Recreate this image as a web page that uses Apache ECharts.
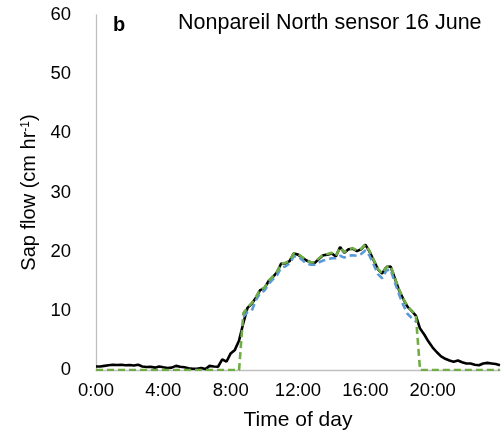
<!DOCTYPE html>
<html>
<head>
<meta charset="utf-8">
<script src="https://cdn.jsdelivr.net/npm/echarts@6/dist/echarts.min.js"></script>
<style>
  html, body { margin: 0; padding: 0; background: #fff; }
  #chart { width: 504px; height: 431px; }
</style>
</head>
<body>
<div id="chart"></div>
<script>
// Time of day at 15-minute steps, 0:00 .. 24:00
const times = [];
for (let i = 0; i <= 96; i++) {
  const h = Math.floor(i / 4), m = (i % 4) * 15;
  times.push(h + ':' + (m === 0 ? '00' : m));
}

// Measured sap flow (cm hr-1)
const measured = [
  0.6, 0.6, 0.7, 0.8, 0.9, 0.85, 0.9, 0.8,
  0.85, 0.75, 0.9, 0.6, 0.5, 0.55, 0.4, 0.6,
  0.45, 0.35, 0.4, 0.7, 0.55, 0.45, 0.3, 0.2,
  0.2, 0.35, 0.15, 0.7, 0.6, 0.55, 1.8, 1.4,
  2.8, 3.4, 5.0, 7.9, 10.5, 11.2, 12.2, 13.5,
  13.8, 15.0, 15.7, 16.5, 18.0, 18.0, 18.4, 19.7,
  19.5, 19.0, 18.5, 18.2, 18.1, 18.8, 19.4, 19.5,
  19.7, 19.2, 20.8, 19.8, 20.4, 20.5, 20.1, 20.4,
  21.2, 20.0, 18.5, 17.0, 16.3, 17.4, 17.5, 15.5,
  13.5, 12.0, 10.7, 10.0, 9.2, 7.0, 6.0, 4.8,
  3.8, 3.0, 2.3, 1.9, 1.6, 1.4, 1.6, 1.3,
  1.1, 1.1, 0.9, 0.8, 1.1, 1.2, 1.1, 1.0,
  0.8
];

// Blue dashed estimate (daytime only)
const estimateBlue = [
  null, null, null, null, null, null, null, null,
  null, null, null, null, null, null, null, null,
  null, null, null, null, null, null, null, null,
  null, null, null, null, null, null, null, null,
  null, null, null, 9.0, 9.8, 10.0, 11.8, 13.0,
  13.4, 14.5, 15.3, 16.0, 17.3, 17.5, 18.0, 19.2,
  19.2, 18.6, 18.0, 17.8, 17.8, 18.2, 18.5, 18.7,
  18.9, 18.9, 19.3, 19.0, 19.3, 19.4, 19.3, 19.6,
  20.2, 19.3, 17.8, 16.2, 15.5, 16.8, 17.0, 14.8,
  12.8, 11.0, 9.5, 8.8, 8.2, null, null, null,
  null, null, null, null, null, null, null, null,
  null, null, null, null, null, null, null, null,
  null
];

// Green dashed estimate (zero outside daylight)
const estimateGreen = [
  0, 0, 0, 0, 0, 0, 0, 0,
  0, 0, 0, 0, 0, 0, 0, 0,
  0, 0, 0, 0, 0, 0, 0, 0,
  0, 0, 0, 0, 0, 0, 0, 0,
  0, 0, 0, 9.6, 10.6, 11.3, 12.3, 13.6,
  13.9, 15.1, 15.8, 16.6, 18.0, 18.1, 18.5, 19.7,
  19.6, 19.1, 18.5, 18.2, 18.2, 18.9, 19.5, 19.6,
  19.8, 19.3, 20.7, 19.9, 20.4, 20.6, 20.2, 20.5,
  21.2, 20.1, 18.6, 17.1, 16.3, 17.4, 17.6, 15.6,
  13.6, 12.1, 10.8, 10.0, 9.3, 0, 0, 0,
  0, 0, 0, 0, 0, 0, 0, 0,
  0, 0, 0, 0, 0, 0, 0, 0,
  0
];

const yTicks = { min: 0, max: 60, step: 10 };

const font = 'Liberation Sans, Arial, sans-serif';
const chart = echarts.init(document.getElementById('chart'), null, { renderer: 'canvas' });

chart.setOption({
  animation: false,
  backgroundColor: '#ffffff',
  grid: { left: 96, right: 4, top: 15, bottom: 61, containLabel: false, outerBoundsMode: 'none' },
  xAxis: {
    type: 'category',
    data: times,
    boundaryGap: false,
    name: 'Time of day',
    nameLocation: 'middle',
    nameGap: 40,
    nameTextStyle: { fontFamily: font, fontSize: 21, color: '#000' },
    axisLine: { lineStyle: { color: '#bfbfbf', width: 1.3 } },
    axisTick: { show: false },
    splitLine: { show: false },
    axisLabel: {
      interval: function (i) { return i % 16 === 0 && i < 96; },
      fontFamily: font, fontSize: 18.5, color: '#000', margin: 11
    }
  },
  yAxis: {
    type: 'value',
    min: yTicks.min, max: yTicks.max, interval: yTicks.step,
    name: '{t|Sap flow (cm hr}{s|-1}{t|)}',
    nameLocation: 'middle',
    nameGap: 48,
    nameTextStyle: {
      fontFamily: font, color: '#000',
      rich: {
        t: { fontFamily: font, fontSize: 20, color: '#000' },
        s: { fontFamily: font, fontSize: 12, color: '#000', verticalAlign: 'top', padding: [0, 0, 8, 0] }
      }
    },
    axisLine: { show: true, lineStyle: { color: '#bfbfbf', width: 1.3 } },
    axisTick: { show: false },
    splitLine: { show: false },
    axisLabel: { fontFamily: font, fontSize: 18.5, color: '#000', margin: 25 }
  },
  series: [
    {
      name: 'measured', type: 'line', data: measured, showSymbol: false,
      lineStyle: { color: '#000', width: 2.6 }, z: 2
    },
    {
      name: 'blue', type: 'line', data: estimateBlue, showSymbol: false, connectNulls: false,
      lineStyle: { color: '#5b9bd5', width: 2.6, type: [7, 4] }, z: 3
    },
    {
      name: 'green', type: 'line', data: estimateGreen, showSymbol: false,
      lineStyle: { color: '#70ad47', width: 2.6, type: [7, 4] }, z: 4
    }
  ],
  graphic: [
    {
      type: 'text', left: 113, top: 15,
      style: { text: 'b', fontFamily: font, fontSize: 20, fontWeight: 'bold', fill: '#000' }
    },
    {
      type: 'text', left: 178, top: 12,
      style: { text: 'Nonpareil North sensor 16 June', fontFamily: font, fontSize: 21.5, fill: '#000' }
    }
  ]
});
</script>
</body>
</html>
